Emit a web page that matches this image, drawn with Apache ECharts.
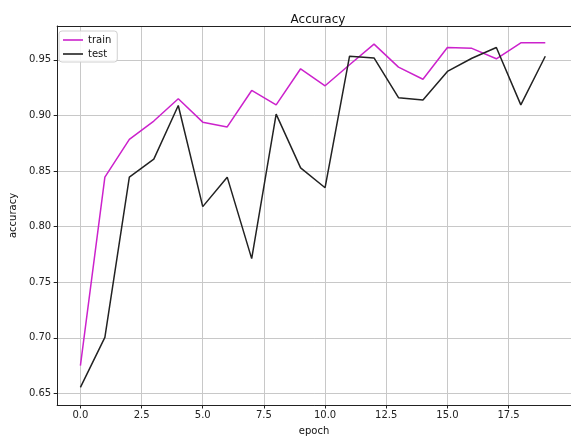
<!DOCTYPE html>
<html>
<head>
<meta charset="utf-8">
<script src="https://cdn.jsdelivr.net/npm/echarts@6/dist/echarts.min.js"></script>
<style>html,body{margin:0;padding:0;background:#fff}#c{width:571px;height:441px}</style>
</head>
<body>
<div id="c"></div>
<script>
const epochs = [0,1,2,3,4,5,6,7,8,9,10,11,12,13,14,15,16,17,18,19];
const train = [0.675,0.8445,0.8785,0.895,0.915,0.894,0.8897,0.9225,0.9095,0.942,0.9267,0.9456,0.9642,0.9435,0.9326,0.9612,0.9604,0.951,0.9654,0.9654];
const test = [0.6554,0.7003,0.8445,0.8607,0.909,0.818,0.8445,0.7712,0.9012,0.8528,0.835,0.9533,0.9518,0.916,0.914,0.9396,0.9515,0.9612,0.9095,0.9533];
const xTicks = [0, 2.5, 5, 7.5, 10, 12.5, 15, 17.5];
const yTicks = [0.65, 0.70, 0.75, 0.80, 0.85, 0.90, 0.95];

const font = 'DejaVu Sans';
const xMin = -0.95, xMax = 19.95 + 2.5 / 24.76;
const chart = echarts.init(document.getElementById('c'), null, {renderer: 'canvas'});
chart.setOption({
  animation: false,
  backgroundColor: '#fff',
  title: {
    text: 'Accuracy', left: 313, top: 9, textAlign: 'center',
    textStyle: {fontFamily: font, fontSize: 12, fontWeight: 'normal', color: '#111'}
  },
  legend: {
    left: 59, top: 31, orient: 'vertical',
    data: [{name: 'train', icon: 'rect'}, {name: 'test', icon: 'rect'}],
    itemWidth: 20, itemHeight: 1.6, itemGap: 4,
    padding: [4, 6, 3, 4],
    borderColor: '#d0d0d0', borderWidth: 1, borderRadius: 3,
    backgroundColor: 'rgba(255,255,255,0.85)',
    textStyle: {fontFamily: font, fontSize: 10, color: '#111'}
  },
  grid: {
    left: 55.5, top: 26, width: 520, height: 385.7, show: false
  },
  xAxis: [{
    type: 'value', min: xMin, max: xMax,
    name: 'epoch', nameLocation: 'middle', nameGap: 21,
    nameTextStyle: {fontFamily: font, fontSize: 10, color: '#111'},
    axisLine: {show: true, onZero: false, lineStyle: {color: '#222', width: 1}},
    axisTick: {show: true, inside: false, length: 3.5, lineStyle: {color: '#222'}, customValues: xTicks},
    axisLabel: {customValues: xTicks, fontFamily: font, fontSize: 10, color: '#222', margin: 5,
      formatter: v => v.toFixed(1)},
    splitLine: {show: true, lineStyle: {color: '#c8c8c8', width: 1}}
  }, {
    type: 'value', position: 'top', min: xMin, max: xMax,
    axisLine: {show: true, onZero: false, lineStyle: {color: '#222', width: 1}},
    axisTick: {show: false}, axisLabel: {show: false}, splitLine: {show: false}
  }],
  yAxis: {
    type: 'value', min: 0.6395, max: 0.9805,
    name: 'accuracy', nameLocation: 'middle', nameGap: 34,
    nameTextStyle: {fontFamily: font, fontSize: 10, color: '#111'},
    axisLine: {show: true, onZero: false, lineStyle: {color: '#222', width: 1}},
    axisTick: {show: true, inside: false, length: 3.5, lineStyle: {color: '#222'}, customValues: yTicks},
    axisLabel: {customValues: yTicks, fontFamily: font, fontSize: 10, color: '#222', margin: 6,
      formatter: v => v.toFixed(2)},
    splitLine: {show: true, lineStyle: {color: '#c8c8c8', width: 1}}
  },
  series: [
    {name: 'train', type: 'line', xAxisIndex: 0, data: epochs.map((e, i) => [e, train[i]]),
      symbol: 'none', lineStyle: {color: '#cc22cc', width: 1.5}, itemStyle: {color: '#cc22cc'}},
    {name: 'test', type: 'line', xAxisIndex: 0, data: epochs.map((e, i) => [e, test[i]]),
      symbol: 'none', lineStyle: {color: '#222222', width: 1.5}, itemStyle: {color: '#222222'}}
  ]
});
</script>
</body>
</html>
